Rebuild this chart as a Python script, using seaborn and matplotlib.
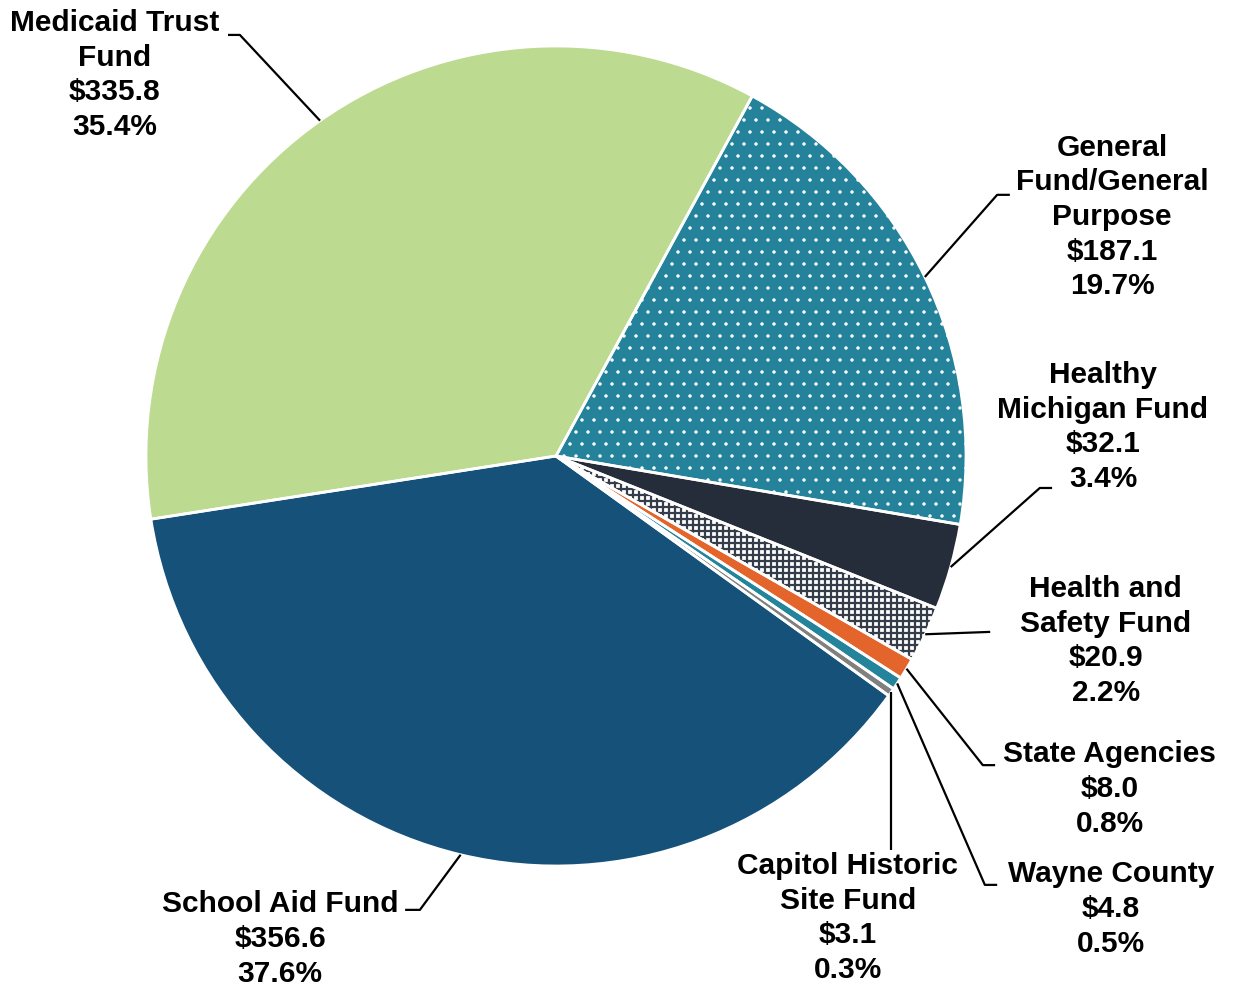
import matplotlib
matplotlib.use("Agg")
import matplotlib.pyplot as plt
import seaborn as sns
import numpy as np

# ---- data ----
names = ["Medicaid Trust\nFund", "School Aid Fund", "Capitol Historic\nSite Fund",
         "Wayne County", "State Agencies", "Health and\nSafety Fund",
         "Healthy\nMichigan Fund", "General\nFund/General\nPurpose"]
values = [335.8, 356.6, 3.1, 4.8, 8.0, 20.9, 32.1, 187.1]
colors = ["#BCDA90", "#16517A", "#808080", "#23849C", "#E3652B", "#FFFFFF", "#262D3A", "#24839A"]
hatches = [None, None, None, None, None, "++", None, "."]
hatch_colors = ["#BCDA90", "#16517A", "#808080", "#23849C", "#E3652B", "#363D4A", "#262D3A", "#FFFFFF"]
hatch_widths = [1.0, 1.0, 1.0, 1.0, 1.0, 1.6, 1.0, 0.7]

# label layout (data coords, pie radius = 1)
text_pos = [(-1.076, 0.929), (-0.673, -1.178), (0.712, -1.127), (1.354, -1.105),
            (1.351, -0.812), (1.341, -0.451), (1.334, 0.071), (1.356, 0.583)]
elbows = [[(-0.771, 1.027), (-0.80, 1.027)],
          [(-0.332, -1.107), (-0.368, -1.107)],
          [None],
          [(1.046, -1.046), (1.076, -1.046)],
          [(1.041, -0.754), (1.071, -0.754)],
          [(1.059, -0.429)],
          [(1.180, -0.078), (1.210, -0.078)],
          [(1.076, 0.637), (1.107, 0.637)]]

DPI = 72
S = 100 / DPI  # keep pixel sizes as at 100 dpi

sns.set_style("white")
plt.rcParams["font.family"] = ["Liberation Sans", "DejaVu Sans"]
plt.rcParams["hatch.linewidth"] = 1.2 * S

fig = plt.figure(figsize=(1233 / DPI, 988 / DPI), dpi=DPI)
ax = fig.add_axes([0, 0, 1, 1])

pal = sns.color_palette(colors)
wedges, _ = ax.pie(values, colors=pal, startangle=61.4, counterclock=True, radius=1.0,
                   wedgeprops=dict(linewidth=0))
for w, h, hc, hw in zip(wedges, hatches, hatch_colors, hatch_widths):
    w.set_edgecolor(hc)
    w.set_linewidth(0)
    if h:
        w.set_hatch(h)
        if hasattr(w, "set_hatch_linewidth"):
            w.set_hatch_linewidth(hw * S)
# white separators
ax.pie(values, startangle=61.4, counterclock=True, radius=1.0,
       wedgeprops=dict(facecolor="none", edgecolor="white", linewidth=2.0 * S))

ax.set_aspect("auto")
ax.set_xlim(-556 / 410, (1233 - 556) / 410)
ax.set_ylim(-(988 - 456) / 410, 456 / 410)
ax.axis("off")

total = sum(values)
for w, name, v, tp, el in zip(wedges, names, values, text_pos, elbows):
    ang = np.deg2rad((w.theta1 + w.theta2) / 2)
    x0, y0 = np.cos(ang), np.sin(ang)
    if el[0] is None:
        pts = [(x0, y0), (x0, -0.961)]
    else:
        pts = [(x0, y0)] + el
    xs, ys = zip(*pts)
    ax.plot(xs, ys, color="black", lw=1.6 * S, solid_capstyle="butt")
    label = f"{name}\n\\${v:.1f}\n{v / total * 100:.1f}%"
    ax.text(tp[0], tp[1], label, ha="center", va="center", fontsize=21.5 * S,
            fontweight="bold", linespacing=1.3, color="black")

fig.savefig("out.png", dpi=DPI)
